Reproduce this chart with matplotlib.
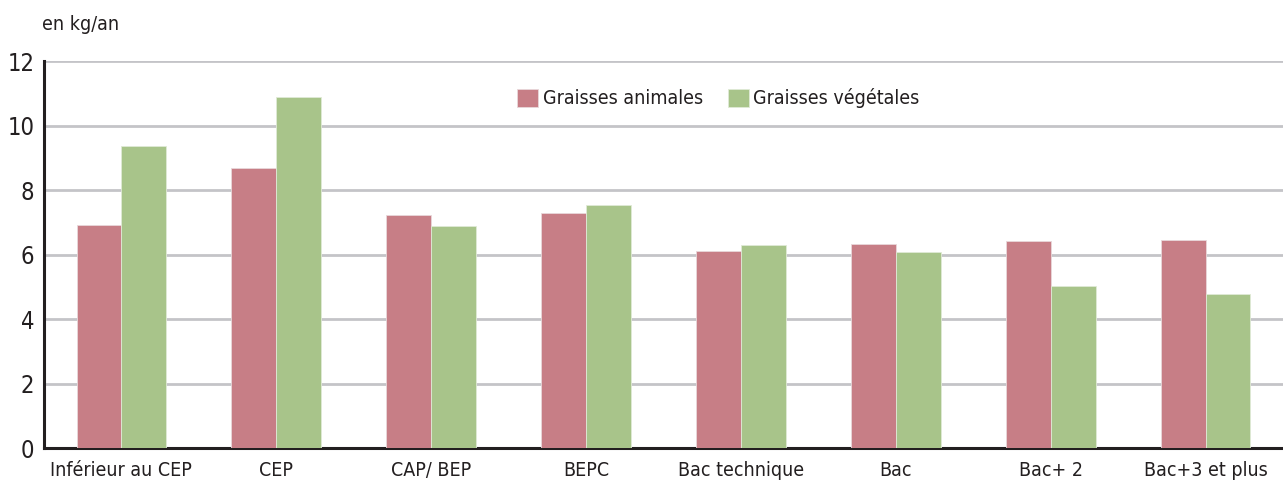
import numpy as np
import matplotlib
matplotlib.use('Agg')
import matplotlib.pyplot as plt

# %% Data

categories = ['Inférieur au CEP', 'CEP', 'CAP/ BEP', 'BEPC', 'Bac technique',
              'Bac', 'Bac+ 2', 'Bac+3 et plus']
graisses_animales = [6.93, 8.69, 7.21, 7.30, 6.12, 6.34, 6.43, 6.46]
graisses_vegetales = [9.37, 10.89, 6.87, 7.52, 6.28, 6.09, 5.01, 4.79]
yticks = [0, 2, 4, 6, 8, 10, 12]

# %% Style

plt.rcParams['font.family'] = ['DejaVu Sans']
plt.rcParams['font.stretch'] = 'condensed'
txt_col = '#231f20'
col_anim = '#c77e86'
col_veg = '#a8c48a'

fig = plt.figure(figsize=(12.83, 4.84), dpi=100)
ax = fig.add_axes([44 / 1283, 1 - 448 / 484, 1 - 44 / 1283, (448 - 61) / 484])

x = np.arange(len(categories))
w = 0.29
ax.bar(x - w / 2, graisses_animales, w, color=col_anim, edgecolor='#e8d8da',
       linewidth=0.6, label='Graisses animales', zorder=3)
ax.bar(x + w / 2, graisses_vegetales, w, color=col_veg, edgecolor='#e0ead6',
       linewidth=0.6, label='Graisses végétales', zorder=3)

ax.set_xlim(-0.5, 7.5)
ax.set_ylim(0, 12)
ax.set_yticks(yticks)
ax.set_yticklabels([str(t) for t in yticks], fontsize=17, color=txt_col)
ax.set_xticks(x)
ax.set_xticklabels(categories, fontsize=14, color=txt_col)
ax.tick_params(axis='x', length=0, pad=9)
ax.tick_params(axis='y', length=0, pad=7)
ax.yaxis.grid(True, color='#c4c4c8', linewidth=2, zorder=0)
ax.set_axisbelow(True)

for s in ['top', 'right']:
    ax.spines[s].set_visible(False)
ax.spines['left'].set_linewidth(2.2)
ax.spines['bottom'].set_linewidth(2.2)
ax.spines['left'].set_color(txt_col)
ax.spines['bottom'].set_color(txt_col)

leg = ax.legend(loc='upper left', bbox_to_anchor=(0.368, 0.975), ncol=2, frameon=False,
                fontsize=14, handlelength=1.05, handleheight=1.05, handletextpad=0.25,
                columnspacing=1.3, labelcolor=txt_col)

fig.text(42 / 1283, 1 - 24 / 484, 'en kg/an', fontsize=14, color=txt_col, va='center')

fig.savefig('out.png', dpi=100, facecolor='white')
